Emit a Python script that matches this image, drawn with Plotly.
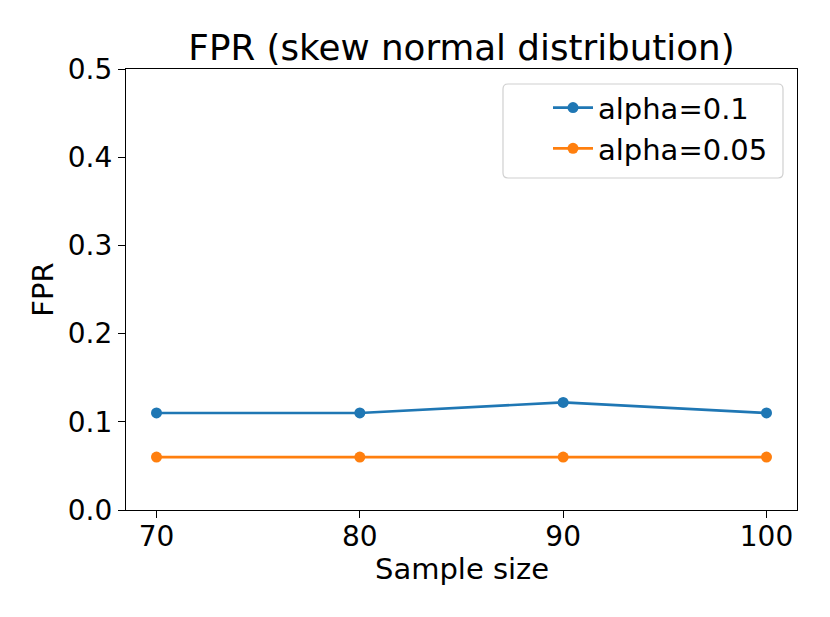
import plotly.graph_objects as go

sample_sizes = [70, 80, 90, 100]
fpr_alpha_01 = [0.11, 0.11, 0.122, 0.11]
fpr_alpha_005 = [0.06, 0.06, 0.06, 0.06]
series_names = ["alpha=0.1", "alpha=0.05"]
y_ticks = [0.0, 0.1, 0.2, 0.3, 0.4, 0.5]

FONT = "DejaVu Sans"
W, H = 822, 609
ML, MR, MT, MB = 118, 33, 61, 107
PW, PH = W - ML - MR, H - MT - MB

fig = go.Figure()
fig.add_trace(go.Scatter(
    x=sample_sizes, y=fpr_alpha_01, name=series_names[0], mode="lines+markers",
    line=dict(color="#1f77b4", width=2.7), marker=dict(size=11, color="#1f77b4"),
))
fig.add_trace(go.Scatter(
    x=sample_sizes, y=fpr_alpha_005, name=series_names[1], mode="lines+markers",
    line=dict(color="#ff7f0e", width=2.7), marker=dict(size=11, color="#ff7f0e"),
))

axis_common = dict(
    showline=True, linecolor="black", linewidth=1.2, mirror=True,
    ticks="outside", ticklen=7, tickwidth=1.2, tickcolor="black",
    showgrid=False, zeroline=False,
    tickfont=dict(family=FONT, size=28, color="black"),
)

# rounded legend frame (matplotlib style)
x0, x1 = (495 - ML) / PW, (775 - ML) / PW
y1, y0 = (H - MB - 76) / PH, (H - MB - 170) / PH
rx, ry = 5 / PW, 5 / PH
path = (
    f"M {x0+rx},{y0} L {x1-rx},{y0} Q {x1},{y0} {x1},{y0+ry} "
    f"L {x1},{y1-ry} Q {x1},{y1} {x1-rx},{y1} "
    f"L {x0+rx},{y1} Q {x0},{y1} {x0},{y1-ry} "
    f"L {x0},{y0+ry} Q {x0},{y0} {x0+rx},{y0} Z"
)

fig.update_layout(
    width=W, height=H,
    paper_bgcolor="white", plot_bgcolor="white",
    margin=dict(l=ML, r=MR, t=MT, b=MB, autoexpand=False),
    font=dict(family=FONT, color="black"),
    title=dict(
        text="FPR (skew normal distribution)",
        font=dict(family=FONT, size=35.7, color="black"),
        x=0.5, xref="paper", xanchor="center",
        y=1 - 40 / H, yref="container", yanchor="middle",
    ),
    xaxis=dict(
        range=[68.5, 101.5], tickvals=sample_sizes,
        ticktext=[str(v) for v in sample_sizes],
        ticklabelstandoff=-6,
        **axis_common,
    ),
    yaxis=dict(
        range=[0, 0.5], tickvals=y_ticks,
        ticktext=[f"{v:.1f}" for v in y_ticks],
        title=dict(text="FPR", font=dict(family=FONT, size=29, color="black"), standoff=5),
        **axis_common,
    ),
    annotations=[dict(
        text="Sample size", xref="paper", yref="paper", x=0.5, y=-(560.5 - (H - MB)) / PH,
        xanchor="center", yanchor="middle", showarrow=False,
        font=dict(family=FONT, size=29, color="black"),
    )],
    shapes=[dict(
        type="path", xref="paper", yref="paper", path=path,
        line=dict(color="#d0d0d0", width=1.2), fillcolor="rgba(255,255,255,0.8)",
        layer="above",
    )],
    legend=dict(
        x=(540 - ML) / PW, y=0.97, xanchor="left", yanchor="top",
        bgcolor="rgba(0,0,0,0)", borderwidth=0,
        font=dict(family=FONT, size=29, color="black"),
        itemwidth=40, tracegroupgap=0,
    ),
    showlegend=True,
)

fig.write_html("out.html")
